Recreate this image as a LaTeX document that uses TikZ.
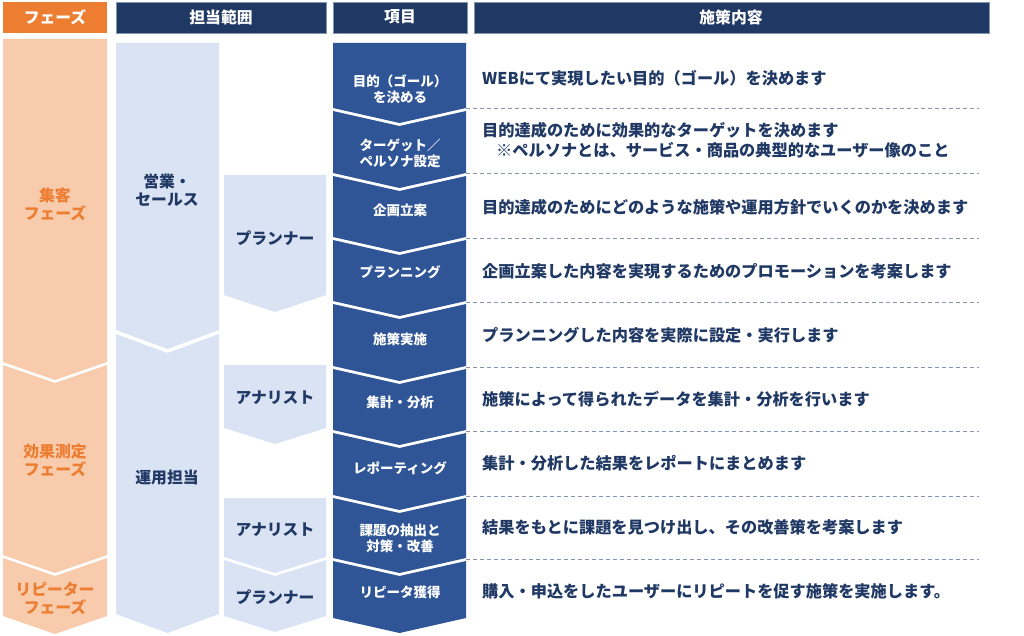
\documentclass[tikz,border=0pt]{standalone}
\usepackage{fontspec}
\setmainfont{Noto Sans CJK JP}
\definecolor{navy}{HTML}{203864}
\definecolor{orangeH}{HTML}{ED7D31}
\definecolor{orangeL}{HTML}{F8CBAD}
\definecolor{blueL}{HTML}{DAE3F3}
\definecolor{blueM}{HTML}{2F5597}
\definecolor{dashc}{HTML}{8497B0}
\newcommand\mychev[7]{%
  \fill[#1] (#2,#4) -- ({(#2+#3)/2},{#4+#7*#6}) -- (#3,#4) -- (#3,#5)
    -- ({(#2+#3)/2},{#5+#6}) -- (#2,#5) -- cycle;}
\tikzset{
  hdr/.style={draw=dashc, line width=0.5pt, fill=navy},
  hdrtxt/.style={text=white, font=\fontsize{15.8}{18}\selectfont\bfseries, inner sep=0pt},
  itemtxt/.style={text=white, font=\fontsize{13.5}{16}\selectfont\bfseries, align=center, inner sep=0pt},
  roletxt/.style={text=navy, font=\fontsize{15.8}{18}\selectfont\bfseries, align=center, inner sep=0pt},
  phasetxt/.style={text=orangeH, font=\fontsize{15.8}{18}\selectfont\bfseries, align=center, inner sep=0pt},
  desc/.style={text=navy, font=\fontsize{16.2}{20}\selectfont\bfseries, align=left, anchor=west, inner sep=0pt},
  sep/.style={draw=dashc, dashed, dash pattern=on 4pt off 3pt, line width=1pt}
}
\begin{document}
\begin{tikzpicture}[x=1pt,y=-1pt]
\useasboundingbox (0,0) rectangle (1024,636);
% headers
\fill[orangeH] (3,2) rectangle (107,33);
\node[hdrtxt] (h1) at (55,17) {フェーズ};
\draw[hdr] (116,2) rectangle (326,33);
\node[hdrtxt] (h2) at (221,17) {担当範囲};
\draw[hdr] (333,2) rectangle (467,33);
\node[hdrtxt] (h3) at (400,17) {項目};
\draw[hdr] (474,2) rectangle (989,33);
\node[hdrtxt] (h4) at (731,17) {施策内容};
% phase column
\mychev{orangeL}{3}{107}{39}{362}{18}{0}
\mychev{orangeL}{3}{107}{365}{555}{18}{1}
\mychev{orangeL}{3}{107}{558}{616}{18}{1}
\node[phasetxt] (p1) at (55,204) {集客\\フェーズ};
\node[phasetxt] (p2) at (55,460) {効果測定\\フェーズ};
\node[phasetxt] (p3) at (55,598) {リピーター\\フェーズ};
% role column 1
\mychev{blueL}{116}{219}{43}{330}{19}{0}
\mychev{blueL}{116}{219}{334}{614}{19}{1}
\node[roletxt] (r1) at (167,190) {営業・\\セールス};
\node[roletxt] (r2) at (167,478) {運用担当};
% role column 2
\mychev{blueL}{224}{326}{175}{295}{17}{0}
\mychev{blueL}{224}{326}{365}{428}{16}{0}
\mychev{blueL}{224}{326}{498}{557}{16}{0}
\mychev{blueL}{224}{326}{560}{616}{16}{1}
\node[roletxt] (r3) at (275,238) {プランナー};
\node[roletxt] (r4) at (275,398) {アナリスト};
\node[roletxt] (r5) at (275,530) {アナリスト};
\node[roletxt] (r6) at (275,597) {プランナー};
% items column
\mychev{blueM}{333}{466}{43}{108}{15}{0}
\mychev{blueM}{333}{466}{111}{173}{15}{1}
\mychev{blueM}{333}{466}{176}{237}{15}{1}
\mychev{blueM}{333}{466}{240}{301}{15}{1}
\mychev{blueM}{333}{466}{304}{366}{15}{1}
\mychev{blueM}{333}{466}{369}{430}{15}{1}
\mychev{blueM}{333}{466}{433}{495}{15}{1}
\mychev{blueM}{333}{466}{498}{558}{15}{1}
\mychev{blueM}{333}{466}{561}{618}{15}{1}
\node[itemtxt] (i1) at (400,89) {目的（ゴール）\\を決める};
\node[itemtxt] (i2) at (400,153) {ターゲット／\\ペルソナ設定};
\node[itemtxt] (i3) at (400,210) {企画立案};
\node[itemtxt] (i4) at (400,272) {プランニング};
\node[itemtxt] (i5) at (400,339) {施策実施};
\node[itemtxt] (i6) at (400,402) {集計・分析};
\node[itemtxt] (i7) at (400,468) {レポーティング};
\node[itemtxt] (i8) at (400,538) {課題の抽出と\\対策・改善};
\node[itemtxt] (i9) at (400,592) {リピータ獲得};
% separators
\foreach \yy [count=\k] in {109,174,238,302,367,431,496,559}{
  \coordinate (sa\k) at (466,\yy);
  \coordinate (sb\k) at (979,\yy);
  \draw[sep] (sa\k) -- (sb\k);
}
% descriptions
\node[desc] (d1) at (482,78) {WEBにて実現したい目的（ゴール）を決めます};
\node[desc] (d2) at (482,140) {目的達成のために効果的なターゲットを決めます\\\hspace*{14pt}※ペルソナとは、サービス・商品の典型的なユーザー像のこと};
\node[desc] (d3) at (482,207) {目的達成のためにどのような施策や運用方針でいくのかを決めます};
\node[desc] (d4) at (482,271) {企画立案した内容を実現するためのプロモーションを考案します};
\node[desc] (d5) at (482,335) {プランニングした内容を実際に設定・実行します};
\node[desc] (d6) at (482,399) {施策によって得られたデータを集計・分析を行います};
\node[desc] (d7) at (482,463) {集計・分析した結果をレポートにまとめます};
\node[desc] (d8) at (482,527) {結果をもとに課題を見つけ出し、その改善策を考案します};
\node[desc] (d9) at (482,591) {購入・申込をしたユーザーにリピートを促す施策を実施します。};
\end{tikzpicture}
\end{document}
